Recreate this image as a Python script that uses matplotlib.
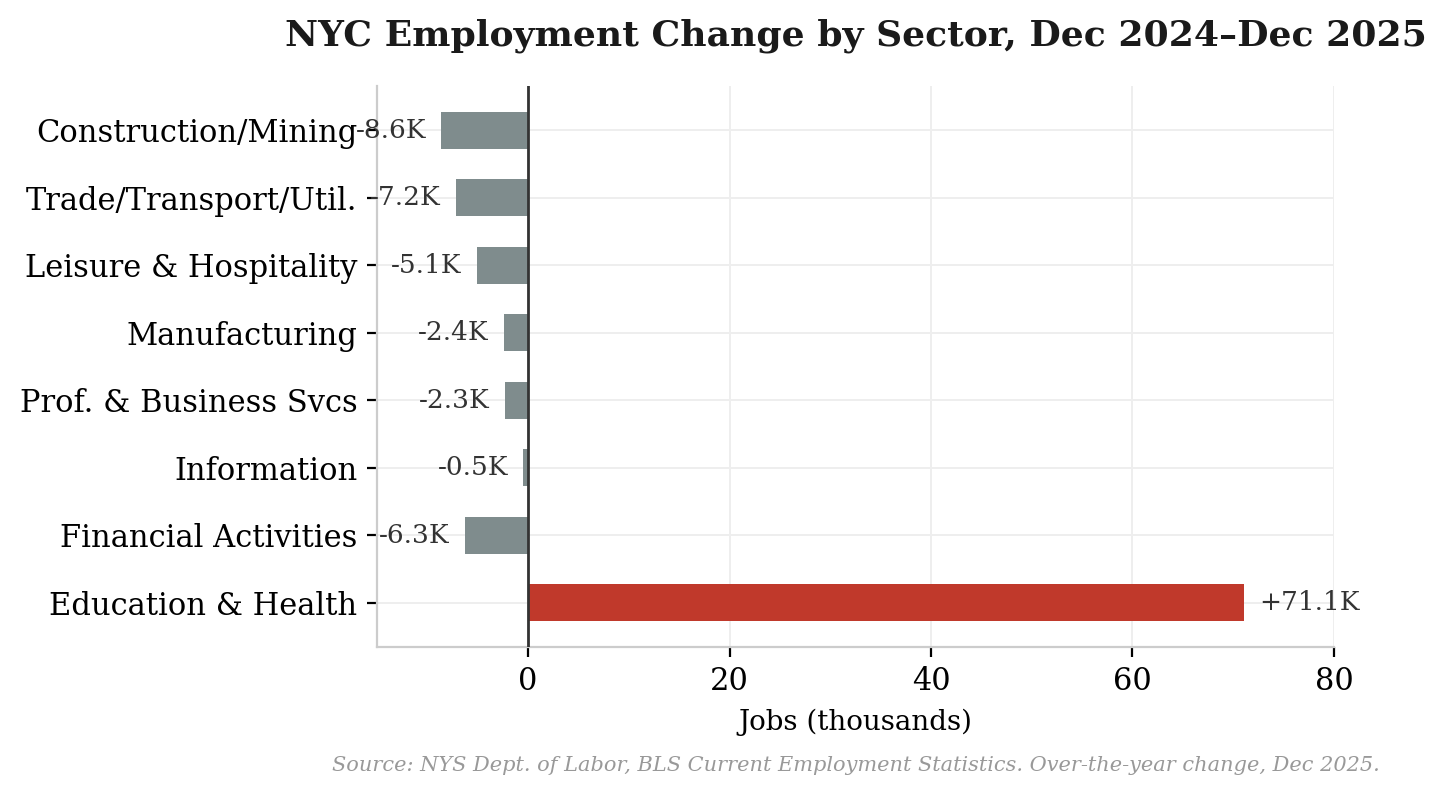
import matplotlib
matplotlib.use("Agg")
import matplotlib.pyplot as plt

# Over-the-year change, Dec 2024 -> Dec 2025 (thousands of jobs)
sectors = ["Construction/Mining", "Trade/Transport/Util.", "Leisure & Hospitality",
           "Manufacturing", "Prof. & Business Svcs", "Information",
           "Financial Activities", "Education & Health"]
changes = [-8.6, -7.2, -5.1, -2.4, -2.3, -0.5, -6.3, 71.1]

plt.rcParams['font.family'] = ['DejaVu Serif']

fig = plt.figure(figsize=(7.23, 3.975), dpi=200)
ax = fig.add_axes([0.2607, 0.1862, 0.6618, 0.7056])

ypos = list(range(len(sectors)))[::-1]
colors = ["#c0392b" if v > 0 else "#7f8c8d" for v in changes]
ax.barh(ypos, changes, height=0.55, color=colors, zorder=3)

# value labels
for y, v in zip(ypos, changes):
    if v > 0:
        ax.text(v + 1.5, y, "+{:.1f}K".format(v), va="center", ha="left",
                fontsize=9.5, color="#333333", zorder=4)
    else:
        ax.text(v - 1.5, y, "{:.1f}K".format(v), va="center", ha="right",
                fontsize=9.5, color="#333333", zorder=4)

ax.axvline(0, color="#333333", linewidth=1.0, zorder=4)

ax.set_yticks(ypos)
ax.set_yticklabels(sectors, fontsize=11)
ax.set_xlim(-15, 80)
ax.set_xticks([0, 20, 40, 60, 80])
ax.tick_params(axis="x", labelsize=11)
ax.set_xlabel("Jobs (thousands)", fontsize=10)

ax.grid(True, color="#eeeeee", linewidth=0.7, zorder=0)
ax.set_axisbelow(True)
for s in ["top", "right"]:
    ax.spines[s].set_visible(False)
for s in ["left", "bottom"]:
    ax.spines[s].set_color("#cccccc")

ax.set_title("NYC Employment Change by Sector, Dec 2024\u2013Dec 2025",
             fontsize=13, fontweight="bold", pad=14.5, color="#1a1a1a")

fig.text(0.954, 0.03, "Source: NYS Dept. of Labor, BLS Current Employment Statistics. "
         "Over-the-year change, Dec 2025.", ha="right", fontsize=7.5,
         style="italic", color="#999999")

fig.savefig("out.png", dpi=200)
